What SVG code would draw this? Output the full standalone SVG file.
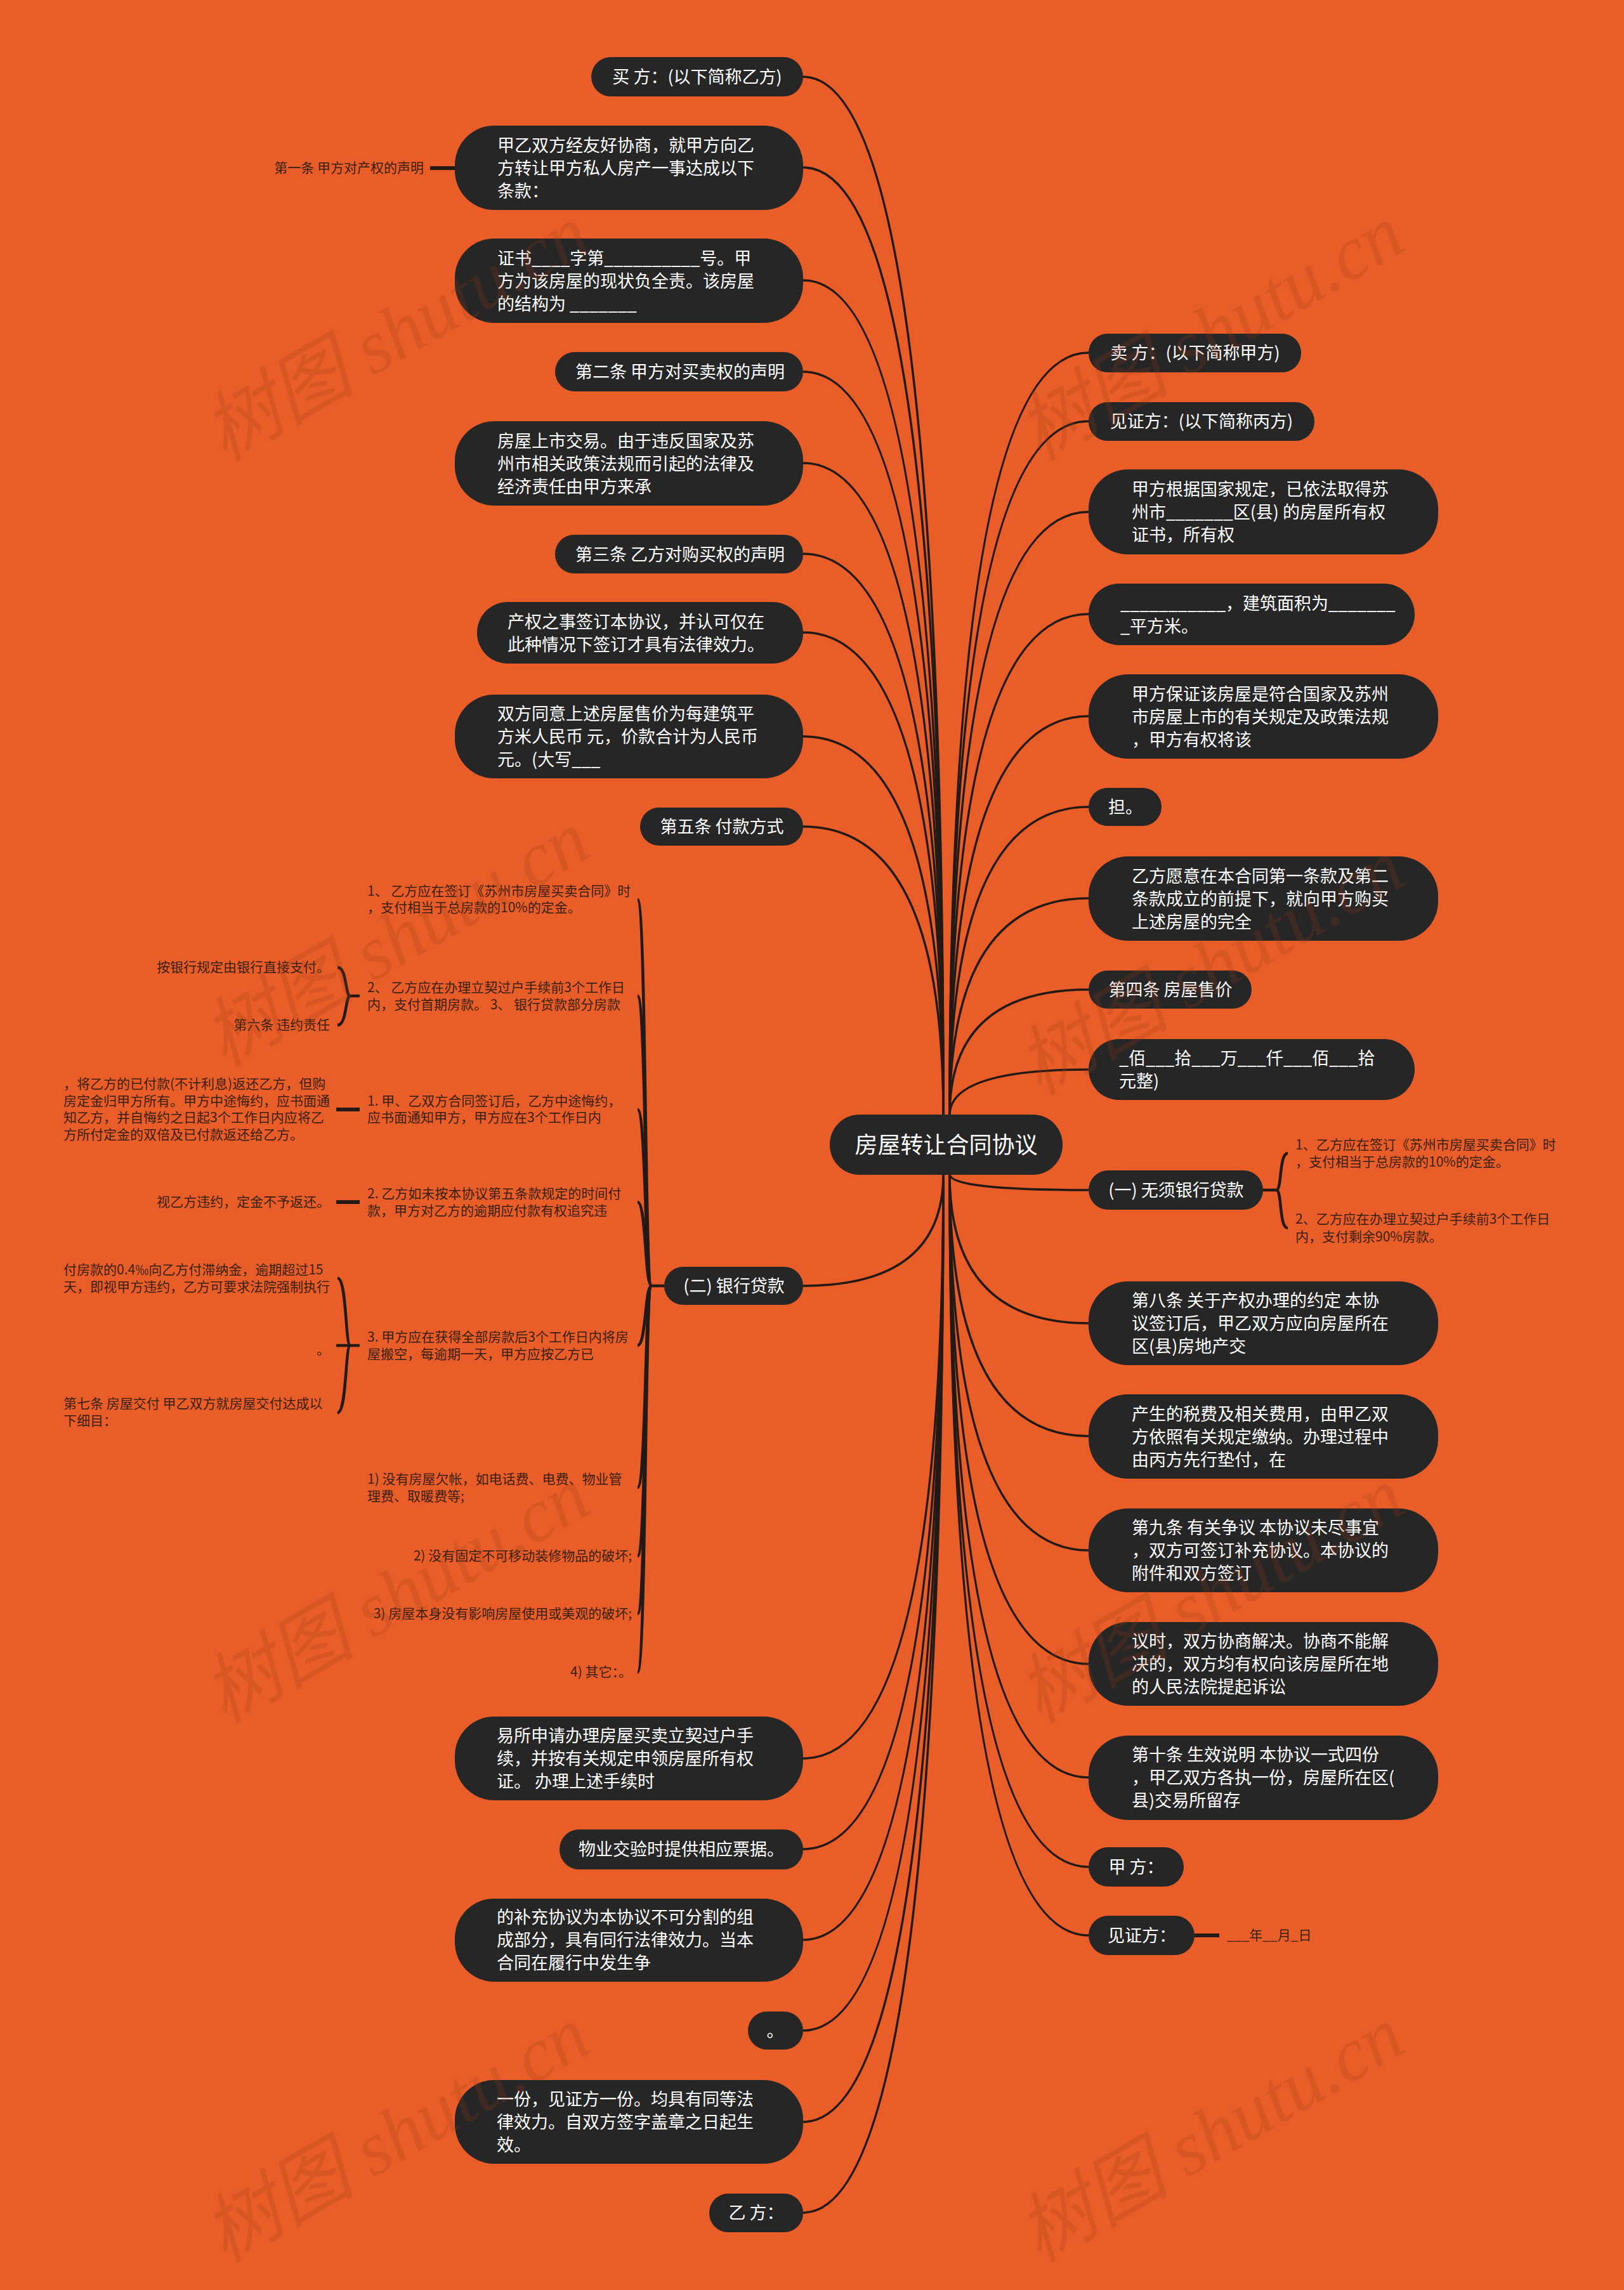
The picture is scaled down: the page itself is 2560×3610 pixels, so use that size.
<svg xmlns="http://www.w3.org/2000/svg" width="2560" height="3610" viewBox="0 0 2560 3610">
<style>
.pill{fill:#262626}
.t{font-family:"Noto Sans CJK SC","Noto Sans",sans-serif;font-size:27px;fill:#ffffff}
.c{text-anchor:middle}
.leaf{font-family:"Noto Sans CJK SC","Noto Sans",sans-serif;font-size:21px;fill:#3a1f12}
.e{text-anchor:end}
.conn{fill:none;stroke:#231915;stroke-width:3.5}
.br{fill:none;stroke:#231915;stroke-width:4.5}
.tick{fill:none;stroke:#231915;stroke-width:6}
.wm{font-family:"Liberation Serif","Noto Sans CJK SC",serif;font-style:italic;font-size:120px;fill:#9A3B1A;opacity:0.22;text-anchor:middle}
</style>
<rect x="0" y="0" width="2560" height="3610" fill="#E95E28"/>

<g id="connectors">
<path class="conn" d="M1487 1758 Q1487 121 1266 121"/>
<path class="conn" d="M1487 1758 Q1487 264 1266 264"/>
<path class="conn" d="M1487 1758 Q1487 442 1266 442"/>
<path class="conn" d="M1487 1758 Q1487 586 1266 586"/>
<path class="conn" d="M1487 1758 Q1487 730 1266 730"/>
<path class="conn" d="M1487 1758 Q1487 873 1266 873"/>
<path class="conn" d="M1487 1758 Q1487 997 1266 997"/>
<path class="conn" d="M1487 1758 Q1487 1161 1266 1161"/>
<path class="conn" d="M1487 1758 Q1487 1303 1266 1303"/>
<path class="conn" d="M1487 1851 Q1487 2027 1266 2027"/>
<path class="conn" d="M1487 1851 Q1487 2772 1266 2772"/>
<path class="conn" d="M1487 1851 Q1487 2915 1266 2915"/>
<path class="conn" d="M1487 1851 Q1487 3058 1266 3058"/>
<path class="conn" d="M1487 1851 Q1487 3201 1266 3201"/>
<path class="conn" d="M1487 1851 Q1487 3345 1266 3345"/>
<path class="conn" d="M1487 1851 Q1487 3488 1266 3488"/>
<path class="conn" d="M1497 1758 Q1497 556 1716 556"/>
<path class="conn" d="M1497 1758 Q1497 664 1716 664"/>
<path class="conn" d="M1497 1758 Q1497 807 1716 807"/>
<path class="conn" d="M1497 1758 Q1497 968 1716 968"/>
<path class="conn" d="M1497 1758 Q1497 1129 1716 1129"/>
<path class="conn" d="M1497 1758 Q1497 1272 1716 1272"/>
<path class="conn" d="M1497 1758 Q1497 1416 1716 1416"/>
<path class="conn" d="M1497 1758 Q1497 1560 1716 1560"/>
<path class="conn" d="M1497 1758 Q1497 1686 1716 1686"/>
<path class="conn" d="M1497 1851 Q1497 1876 1716 1876"/>
<path class="conn" d="M1497 1851 Q1497 2086 1716 2086"/>
<path class="conn" d="M1497 1851 Q1497 2264 1716 2264"/>
<path class="conn" d="M1497 1851 Q1497 2444 1716 2444"/>
<path class="conn" d="M1497 1851 Q1497 2623 1716 2623"/>
<path class="conn" d="M1497 1851 Q1497 2802 1716 2802"/>
<path class="conn" d="M1497 1851 Q1497 2943 1716 2943"/>
<path class="conn" d="M1497 1851 Q1497 3051 1716 3051"/>
<path class="tick" d="M678 265 H717"/>
<path class="tick" d="M1883 3051 H1922"/>
<path class="br" d="M1991 1876 H2012"/>
<path class="br" d="M2012 1876 C2021 1876 2016 1818 2030 1818"/>
<path class="br" d="M2012 1876 C2021 1876 2016 1936 2030 1936"/>
<path class="br" d="M1047 2027 H1027"/>
<path class="br" d="M1027 2027 C1016 2027 1019 1418 1005 1418"/>
<path class="br" d="M1027 2027 C1016 2027 1019 1570 1005 1570"/>
<path class="br" d="M1027 2027 C1016 2027 1019 1749 1005 1749"/>
<path class="br" d="M1027 2027 C1016 2027 1019 1895 1005 1895"/>
<path class="br" d="M1027 2027 C1016 2027 1019 2121 1005 2121"/>
<path class="br" d="M1027 2027 C1016 2027 1019 2345 1005 2345"/>
<path class="br" d="M1027 2027 C1016 2027 1019 2453 1005 2453"/>
<path class="br" d="M1027 2027 C1016 2027 1019 2544 1005 2544"/>
<path class="br" d="M1027 2027 C1016 2027 1019 2636 1005 2636"/>
<path class="br" d="M567 1570 H552"/>
<path class="br" d="M552 1570 C544 1570 547 1525 532 1525"/>
<path class="br" d="M552 1570 C544 1570 547 1616 532 1616"/>
<path class="tick" d="M567 1749 H530"/>
<path class="tick" d="M567 1895 H530"/>
<path class="br" d="M567 2121 H530"/>
<path class="br" d="M552 2121 C544 2121 547 2015 532 2015"/>
<path class="br" d="M552 2121 C544 2121 547 2227 532 2227"/>
</g>

<g id="center">
<rect class="pill" x="1308" y="1757" width="367" height="95" rx="47"/>
<text class="t c" x="1491.5" y="1817.5" style="font-size:36px">房屋转让合同协议</text>
</g>

<g id="L1"><rect class="pill" x="932" y="90" width="334" height="62" rx="31"/><text class="t c" x="1099" y="131">买 方：(以下简称乙方)</text></g>
<g id="L2"><rect class="pill" x="717" y="198" width="549" height="133" rx="62"/><text class="t" x="784" y="239">甲乙双方经友好协商，就甲方向乙</text><text class="t" x="784" y="275">方转让甲方私人房产一事达成以下</text><text class="t" x="784" y="311">条款：</text></g>
<g id="L2a"><text class="leaf e" x="668" y="272">第一条 甲方对产权的声明</text></g>
<g id="L3"><rect class="pill" x="717" y="376" width="549" height="133" rx="62"/><text class="t" x="784" y="417">证书____字第__________号。甲</text><text class="t" x="784" y="453">方为该房屋的现状负全责。该房屋</text><text class="t" x="784" y="489">的结构为 _______</text></g>
<g id="L4"><rect class="pill" x="875" y="555" width="391" height="62" rx="31"/><text class="t c" x="1072" y="596">第二条 甲方对买卖权的声明</text></g>
<g id="L5"><rect class="pill" x="717" y="664" width="549" height="133" rx="62"/><text class="t" x="784" y="705">房屋上市交易。由于违反国家及苏</text><text class="t" x="784" y="741">州市相关政策法规而引起的法律及</text><text class="t" x="784" y="777">经济责任由甲方来承</text></g>
<g id="L6"><rect class="pill" x="875" y="843" width="391" height="61" rx="30"/><text class="t c" x="1072" y="884">第三条 乙方对购买权的声明</text></g>
<g id="L7"><rect class="pill" x="752" y="949" width="514" height="97" rx="48"/><text class="t" x="800" y="990">产权之事签订本协议，并认可仅在</text><text class="t" x="800" y="1026">此种情况下签订才具有法律效力。</text></g>
<g id="L8"><rect class="pill" x="717" y="1095" width="549" height="132" rx="62"/><text class="t" x="784" y="1135">双方同意上述房屋售价为每建筑平</text><text class="t" x="784" y="1171">方米人民币 元，价款合计为人民币</text><text class="t" x="784" y="1207"> 元。(大写___</text></g>
<g id="L9"><rect class="pill" x="1009" y="1273" width="257" height="60" rx="30"/><text class="t c" x="1138" y="1313">第五条 付款方式</text></g>
<g id="L10"><rect class="pill" x="1047" y="1997" width="219" height="60" rx="30"/><text class="t c" x="1157" y="2037">(二) 银行贷款</text></g>
<g id="B1"><text class="leaf" x="579" y="1412">1、 乙方应在签订《苏州市房屋买卖合同》时</text><text class="leaf" x="579" y="1438">，支付相当于总房款的10%的定金。</text></g>
<g id="B2"><text class="leaf" x="579" y="1564">2、 乙方应在办理立契过户手续前3个工作日</text><text class="leaf" x="579" y="1591">内，支付首期房款。 3、 银行贷款部分房款</text></g>
<g id="B2a"><text class="leaf e" x="520" y="1532">按银行规定由银行直接支付。</text></g>
<g id="B2b"><text class="leaf e" x="520" y="1623">第六条 违约责任</text></g>
<g id="B3"><text class="leaf" x="579" y="1743">1. 甲、乙双方合同签订后，乙方中途悔约，</text><text class="leaf" x="579" y="1769">应书面通知甲方，甲方应在3个工作日内</text></g>
<g id="B3a"><text class="leaf" x="100" y="1716">，将乙方的已付款(不计利息)返还乙方，但购</text><text class="leaf" x="100" y="1743">房定金归甲方所有。甲方中途悔约，应书面通</text><text class="leaf" x="100" y="1769">知乙方，并自悔约之日起3个工作日内应将乙</text><text class="leaf" x="100" y="1796">方所付定金的双倍及已付款返还给乙方。</text></g>
<g id="B4"><text class="leaf" x="579" y="1889">2. 乙方如未按本协议第五条款规定的时间付</text><text class="leaf" x="579" y="1916">款，甲方对乙方的逾期应付款有权追究违</text></g>
<g id="B4a"><text class="leaf e" x="520" y="1902">视乙方违约，定金不予返还。</text></g>
<g id="B5"><text class="leaf" x="579" y="2115">3. 甲方应在获得全部房款后3个工作日内将房</text><text class="leaf" x="579" y="2142">屋搬空，每逾期一天，甲方应按乙方已</text></g>
<g id="B5a"><text class="leaf" x="100" y="2009">付房款的0.4‰向乙方付滞纳金，逾期超过15</text><text class="leaf" x="100" y="2036">天，即视甲方违约，乙方可要求法院强制执行</text></g>
<g id="B5b"><text class="leaf e" x="520" y="2135">。</text></g>
<g id="B5c"><text class="leaf" x="100" y="2220">第七条 房屋交付 甲乙双方就房屋交付达成以</text><text class="leaf" x="100" y="2247">下细目：</text></g>
<g id="B6"><text class="leaf" x="579" y="2339">1) 没有房屋欠帐，如电话费、电费、物业管</text><text class="leaf" x="579" y="2366">理费、取暖费等;</text></g>
<g id="B7"><text class="leaf e" x="996" y="2460">2) 没有固定不可移动装修物品的破坏;</text></g>
<g id="B8"><text class="leaf e" x="996" y="2551">3) 房屋本身没有影响房屋使用或美观的破坏;</text></g>
<g id="B9"><text class="leaf e" x="996" y="2643">4) 其它：。</text></g>
<g id="L11"><rect class="pill" x="717" y="2706" width="549" height="132" rx="62"/><text class="t" x="783" y="2746">易所申请办理房屋买卖立契过户手</text><text class="t" x="783" y="2782">续，并按有关规定申领房屋所有权</text><text class="t" x="783" y="2818">证。 办理上述手续时</text></g>
<g id="L12"><rect class="pill" x="882" y="2884" width="384" height="63" rx="31"/><text class="t c" x="1074" y="2925">物业交验时提供相应票据。</text></g>
<g id="L13"><rect class="pill" x="717" y="2993" width="549" height="131" rx="62"/><text class="t" x="783" y="3032">的补充协议为本协议不可分割的组</text><text class="t" x="783" y="3068">成部分，具有同行法律效力。当本</text><text class="t" x="783" y="3104">合同在履行中发生争</text></g>
<g id="L14"><rect class="pill" x="1179" y="3171" width="87" height="60" rx="30"/><text class="t c" x="1222" y="3211">。</text></g>
<g id="L15"><rect class="pill" x="717" y="3279" width="549" height="132" rx="62"/><text class="t" x="783" y="3319">一份，见证方一份。均具有同等法</text><text class="t" x="783" y="3355">律效力。自双方签字盖章之日起生</text><text class="t" x="783" y="3391">效。</text></g>
<g id="L16"><rect class="pill" x="1118" y="3458" width="148" height="61" rx="30"/><text class="t c" x="1192" y="3498">乙 方：</text></g>

<g id="R1"><rect class="pill" x="1716" y="526" width="335" height="61" rx="30"/><text class="t c" x="1884" y="566">卖 方：(以下简称甲方)</text></g>
<g id="R2"><rect class="pill" x="1716" y="634" width="356" height="61" rx="30"/><text class="t c" x="1894" y="674">见证方：(以下简称丙方)</text></g>
<g id="R3"><rect class="pill" x="1716" y="740" width="551" height="134" rx="62"/><text class="t" x="1784" y="781">甲方根据国家规定，已依法取得苏</text><text class="t" x="1784" y="817">州市_______区(县) 的房屋所有权</text><text class="t" x="1784" y="853">证书，所有权</text></g>
<g id="R4"><rect class="pill" x="1716" y="920" width="514" height="97" rx="48"/><text class="t" x="1766" y="961">___________，建筑面积为_______</text><text class="t" x="1766" y="997">_平方米。</text></g>
<g id="R5"><rect class="pill" x="1716" y="1063" width="551" height="133" rx="62"/><text class="t" x="1784" y="1104">甲方保证该房屋是符合国家及苏州</text><text class="t" x="1784" y="1140">市房屋上市的有关规定及政策法规</text><text class="t" x="1784" y="1176">，甲方有权将该</text></g>
<g id="R6"><rect class="pill" x="1716" y="1242" width="115" height="60" rx="30"/><text class="t c" x="1774" y="1282">担。</text></g>
<g id="R7"><rect class="pill" x="1716" y="1350" width="551" height="133" rx="62"/><text class="t" x="1784" y="1391">乙方愿意在本合同第一条款及第二</text><text class="t" x="1784" y="1427">条款成立的前提下，就向甲方购买</text><text class="t" x="1784" y="1463">上述房屋的完全</text></g>
<g id="R8"><rect class="pill" x="1716" y="1530" width="257" height="60" rx="30"/><text class="t c" x="1845" y="1570">第四条 房屋售价</text></g>
<g id="R9"><rect class="pill" x="1716" y="1638" width="514" height="96" rx="48"/><text class="t" x="1764" y="1678">_佰___拾___万___仟___佰___拾</text><text class="t" x="1764" y="1714">元整)</text></g>
<g id="R10"><rect class="pill" x="1716" y="1845" width="275" height="62" rx="31"/><text class="t c" x="1854" y="1886">(一) 无须银行贷款</text></g>
<g id="R10a"><text class="leaf" x="2042" y="1812">1、乙方应在签订《苏州市房屋买卖合同》时</text><text class="leaf" x="2042" y="1839">，支付相当于总房款的10%的定金。</text></g>
<g id="R10b"><text class="leaf" x="2042" y="1929">2、乙方应在办理立契过户手续前3个工作日</text><text class="leaf" x="2042" y="1957">内，支付剩余90%房款。</text></g>
<g id="R11"><rect class="pill" x="1716" y="2020" width="551" height="132" rx="62"/><text class="t" x="1784" y="2060">第八条 关于产权办理的约定 本协</text><text class="t" x="1784" y="2096">议签订后，甲乙双方应向房屋所在</text><text class="t" x="1784" y="2132">区(县)房地产交</text></g>
<g id="R12"><rect class="pill" x="1716" y="2198" width="551" height="133" rx="62"/><text class="t" x="1784" y="2239">产生的税费及相关费用，由甲乙双</text><text class="t" x="1784" y="2275">方依照有关规定缴纳。办理过程中</text><text class="t" x="1784" y="2311">由丙方先行垫付，在</text></g>
<g id="R13"><rect class="pill" x="1716" y="2378" width="551" height="132" rx="62"/><text class="t" x="1784" y="2418">第九条 有关争议 本协议未尽事宜</text><text class="t" x="1784" y="2454">，双方可签订补充协议。本协议的</text><text class="t" x="1784" y="2490">附件和双方签订</text></g>
<g id="R14"><rect class="pill" x="1716" y="2557" width="551" height="132" rx="62"/><text class="t" x="1784" y="2597">议时，双方协商解决。协商不能解</text><text class="t" x="1784" y="2633">决的，双方均有权向该房屋所在地</text><text class="t" x="1784" y="2669">的人民法院提起诉讼</text></g>
<g id="R15"><rect class="pill" x="1716" y="2736" width="551" height="133" rx="62"/><text class="t" x="1784" y="2776">第十条 生效说明 本协议一式四份</text><text class="t" x="1784" y="2812">，甲乙双方各执一份，房屋所在区(</text><text class="t" x="1784" y="2848">县)交易所留存</text></g>
<g id="R16"><rect class="pill" x="1716" y="2912" width="150" height="62" rx="31"/><text class="t c" x="1791" y="2953">甲 方：</text></g>
<g id="R17"><rect class="pill" x="1716" y="3020" width="167" height="62" rx="31"/><text class="t c" x="1800" y="3061">见证方：</text></g>
<g id="R17a"><text class="leaf" x="1934" y="3058">___年__月_日</text></g>

<g id="watermarks">
<text class="wm" transform="translate(645 560) rotate(-30)">树图 shutu.cn</text>
<text class="wm" transform="translate(1929 560) rotate(-30)">树图 shutu.cn</text>
<text class="wm" transform="translate(645 1515) rotate(-30)">树图 shutu.cn</text>
<text class="wm" transform="translate(1929 1560) rotate(-30)">树图 shutu.cn</text>
<text class="wm" transform="translate(645 2550) rotate(-30)">树图 shutu.cn</text>
<text class="wm" transform="translate(1929 2550) rotate(-30)">树图 shutu.cn</text>
<text class="wm" transform="translate(645 3400) rotate(-30)">树图 shutu.cn</text>
<text class="wm" transform="translate(1929 3400) rotate(-30)">树图 shutu.cn</text>
</g>
</svg>
